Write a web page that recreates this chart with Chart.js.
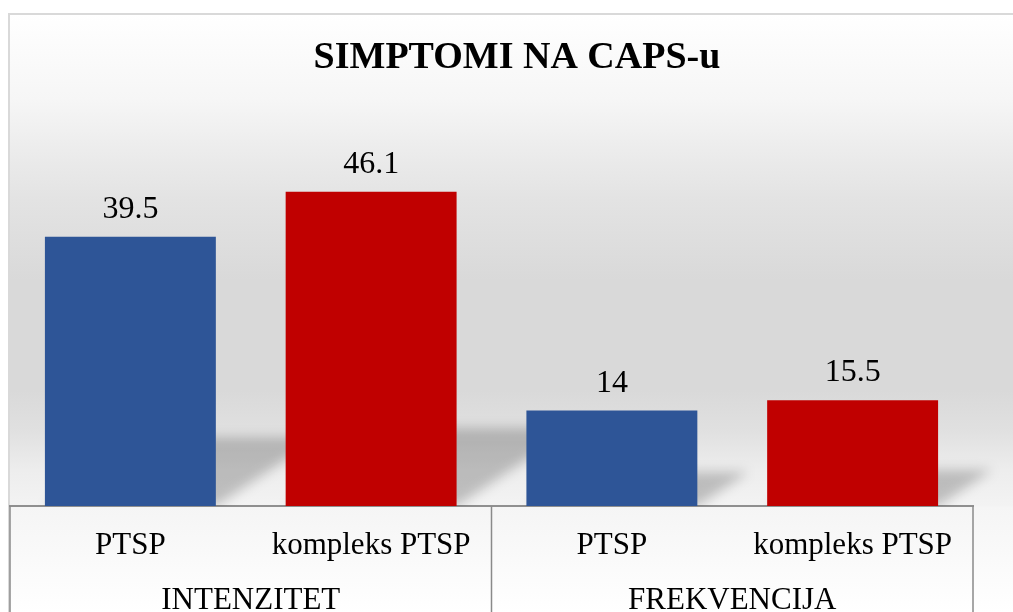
<!DOCTYPE html>
<html>
<head>
<meta charset="utf-8">
<title>SIMPTOMI NA CAPS-u</title>
<script src="https://cdn.jsdelivr.net/npm/chart.js@4"></script>
<style>
	html, body { margin: 0; padding: 0; background: #fff; }
	canvas { display: block; }
</style>
</head>
<body>
<canvas id="capsChart" width="1013" height="612"></canvas>
<script>
const chartTitle = 'SIMPTOMI NA CAPS-u';
const categories = ['PTSP', 'kompleks PTSP', 'PTSP', 'kompleks PTSP'];
const groups = ['INTENZITET', 'FREKVENCIJA'];
const values = [39.5, 46.1, 14, 15.5];
const barColors = ['#2e5597', '#c00000', '#2e5597', '#c00000'];

const serif = '"Liberation Serif", "Times New Roman", serif';

// gray gradient panel with the thin frame
const backgroundPlugin = {
	id: 'panel',
	beforeDraw(chart) {
		const { ctx, width, height } = chart;
		ctx.save();
		ctx.fillStyle = '#ffffff';
		ctx.fillRect(0, 0, width, height);
		const g = ctx.createLinearGradient(0, 13, 0, height);
		const span = height - 13;
		const stop = (y, c) => g.addColorStop(Math.min(1, Math.max(0, (y - 13) / span)), c);
		stop(13, '#ffffff');
		stop(100, '#f6f6f6');
		stop(150, '#ececec');
		stop(200, '#e3e3e3');
		stop(280, '#d9d9d9');
		stop(390, '#d9d9d9');
		stop(430, '#e0e0e0');
		stop(470, '#ededed');
		stop(506, '#f3f3f3');
		stop(507, '#f5f5f5');
		stop(612, '#ffffff');
		ctx.fillStyle = g;
		ctx.fillRect(9, 14, width + 20, height + 20);
		ctx.strokeStyle = '#d9d9d9';
		ctx.lineWidth = 2;
		ctx.strokeRect(9, 14, width + 20, height + 20);
		ctx.restore();
	},
};

// soft slanted shadow behind each bar
const shadowPlugin = {
	id: 'barShadow',
	beforeDatasetsDraw(chart) {
		const { ctx, chartArea } = chart;
		const meta = chart.getDatasetMeta(0);
		ctx.save();
		ctx.beginPath();
		ctx.rect(0, 0, chart.width, chartArea.bottom);
		ctx.clip();
		ctx.filter = 'blur(6px)';
		ctx.fillStyle = 'rgba(0, 0, 0, 0.21)';
		meta.data.forEach((bar) => {
			const { x, y, base, width } = bar.getProps(['x', 'y', 'base', 'width'], true);
			const h = base - y;
			const sh = 0.2 * h + 15;
			const dx = 1.5 * sh;
			const left = x - width / 2;
			const right = x + width / 2;
			ctx.beginPath();
			ctx.moveTo(left, base);
			ctx.lineTo(right, base);
			ctx.lineTo(right + dx, base - sh);
			ctx.lineTo(left + dx, base - sh);
			ctx.closePath();
			ctx.fill();
		});
		ctx.restore();
	},
};

// value labels, title, and the category box lines
const labelPlugin = {
	id: 'labels',
	afterDatasetsDraw(chart) {
		const { ctx } = chart;
		const meta = chart.getDatasetMeta(0);
		ctx.save();
		ctx.fillStyle = '#000';
		ctx.textAlign = 'center';
		ctx.textBaseline = 'alphabetic';
		ctx.font = '32px ' + serif;
		meta.data.forEach((bar, i) => {
			ctx.fillText(String(values[i]), bar.x, bar.y - 19);
		});
		ctx.font = 'bold 38px ' + serif;
		ctx.fillText(chartTitle, 517, 68);

		const xs = chart.scales.x;
		const lines = [xs.left, xs.getPixelForValue(1.5), xs.right];
		ctx.strokeStyle = '#8a8a8a';
		ctx.lineWidth = 1.5;
		lines.forEach((lx) => {
			ctx.beginPath();
			ctx.moveTo(lx, xs.top);
			ctx.lineTo(lx, chart.height);
			ctx.stroke();
		});
		ctx.restore();
	},
};

const data = {
	labels: categories,
	datasets: [
		{
			data: values,
			backgroundColor: barColors,
			borderWidth: 0,
			categoryPercentage: 1,
			barPercentage: 0.71,
		},
	],
};

const options = {
	responsive: false,
	devicePixelRatio: 1,
	animation: false,
	layout: {
		padding: { top: 97, left: 10, right: 40, bottom: 0 },
	},
	plugins: {
		legend: { display: false },
		tooltip: { enabled: false },
		title: { display: false },
	},
	scales: {
		y: {
			display: false,
			min: 0,
			max: 60,
		},
		x: {
			weight: 0,
			grid: { display: false, drawTicks: false },
			border: { display: true, color: '#8f8f8f', width: 2 },
			ticks: {
				color: '#000',
				font: { family: serif, size: 31 },
				padding: 21,
				maxRotation: 0,
				autoSkip: false,
			},
			afterFit: (scale) => {
				scale.height = 57;
			},
		},
		x2: {
			type: 'category',
			labels: groups,
			offset: true,
			position: 'bottom',
			weight: 1,
			grid: { display: false, drawTicks: false },
			border: { display: false },
			ticks: {
				color: '#000',
				font: { family: serif, size: 31 },
				padding: 19,
				maxRotation: 0,
				autoSkip: false,
			},
			afterFit: (scale) => {
				scale.height = 49;
			},
		},
	},
};

new Chart(document.getElementById('capsChart'), {
	type: 'bar',
	data,
	options,
	plugins: [backgroundPlugin, shadowPlugin, labelPlugin],
});
</script>
</body>
</html>
